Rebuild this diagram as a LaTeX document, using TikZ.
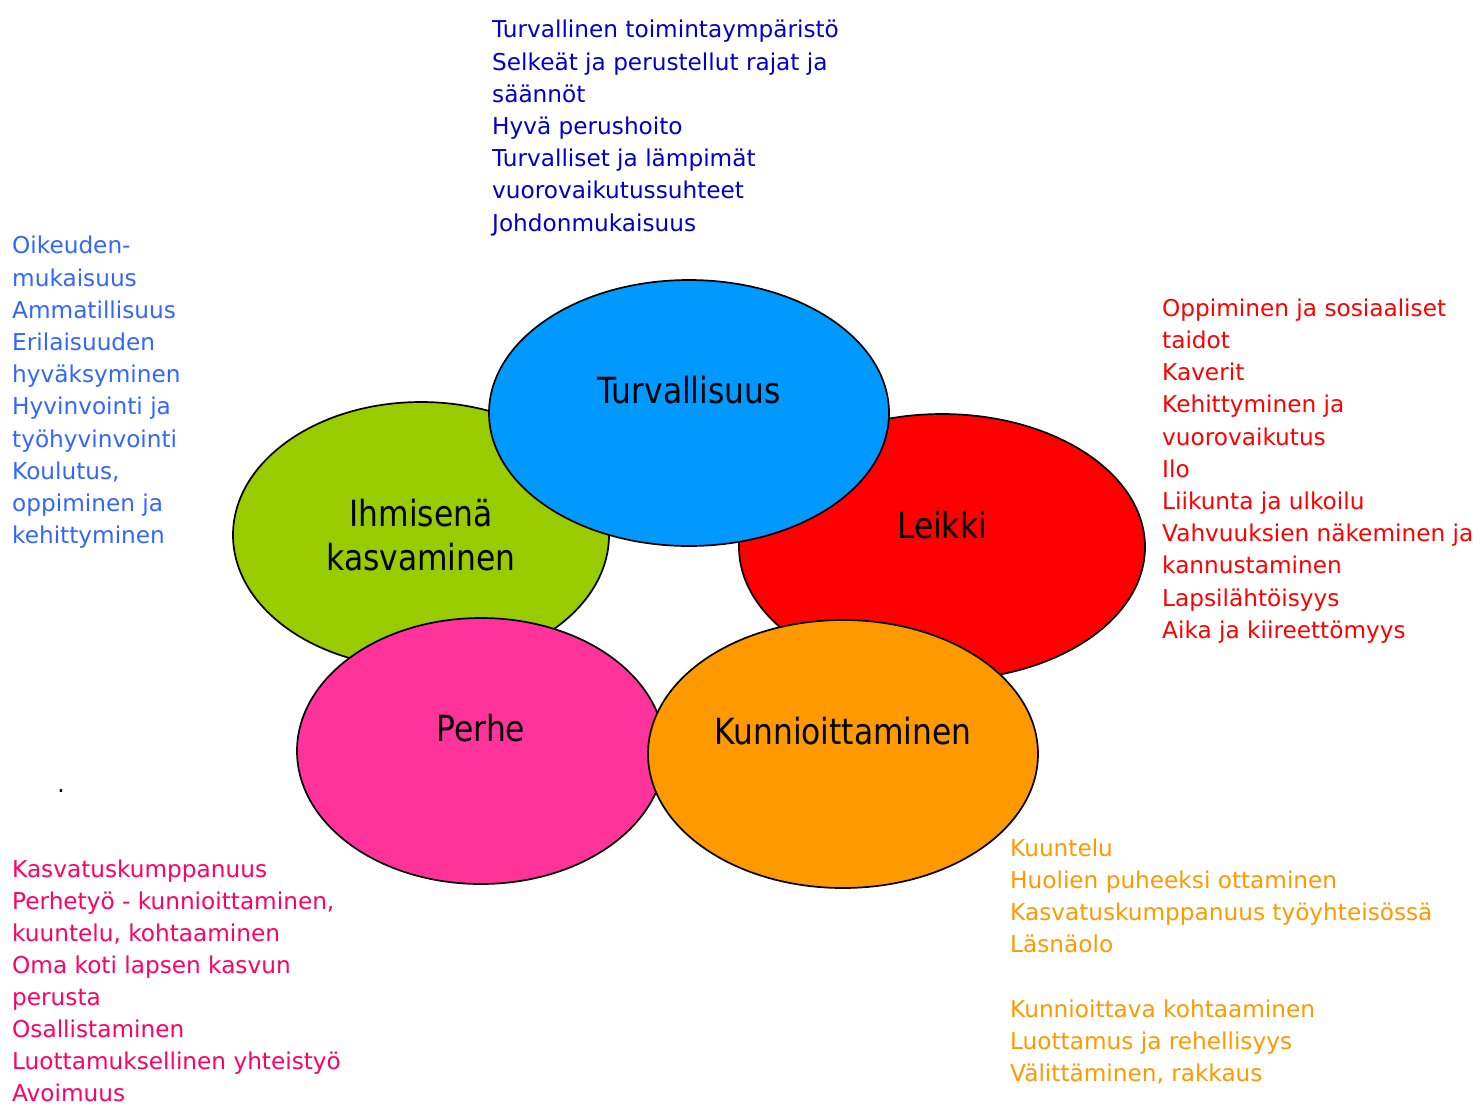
\documentclass[tikz,border=0pt]{standalone}
\usepackage{fontspec}
\setmainfont{DejaVu Sans}
\newfontfamily\bubblefont[FakeStretch=0.87]{DejaVu Sans}
\usepackage{xcolor}
\usetikzlibrary{positioning}
\usetikzlibrary{shapes.geometric}

\definecolor{ihmgreen}{HTML}{99CC00}
\definecolor{turvblue}{HTML}{0099FF}
\definecolor{leikred}{HTML}{FF0000}
\definecolor{perhpink}{HTML}{FF3399}
\definecolor{kunnorange}{HTML}{FF9900}
\definecolor{txtnavy}{HTML}{0000CC}
\definecolor{txtblue}{HTML}{3366FF}
\definecolor{txtred}{HTML}{FF0000}
\definecolor{txtpink}{HTML}{FF0066}
\definecolor{txtorange}{HTML}{FF9900}

\begin{document}
\begin{tikzpicture}[x=1pt,y=-1pt,
  bubble/.style={ellipse,draw=black,line width=1.7pt,inner sep=0pt},
  title/.style={font=\bubblefont\fontsize{36}{44}\selectfont,align=center,inner sep=0pt},
  list/.style={anchor=north west,align=left,inner sep=0pt,font=\fontsize{23.2}{32.2}\selectfont}]
\useasboundingbox (0,0) rectangle (1482,1104);

% the five ellipses, back to front
\node[bubble,fill=ihmgreen,  minimum width=376pt,minimum height=266pt] (ihm)  at (421,535) {};
\node[bubble,fill=leikred,   minimum width=406pt,minimum height=266pt] (leik) at (942,547) {};
\node[bubble,fill=turvblue,  minimum width=400pt,minimum height=266pt] (turv) at (689,413) {};
\node[bubble,fill=perhpink,  minimum width=368pt,minimum height=266pt] (perh) at (481,751) {};
\node[bubble,fill=kunnorange,minimum width=390pt,minimum height=268pt] (kunn) at (843,754) {};

\node[title] (ihmlbl)  at (ihm.center)                {Ihmisenä\\kasvaminen};
\node[title] (turvlbl) at ([yshift=23pt]turv.center)  {Turvallisuus};
\node[title] (leiklbl) at ([yshift=22pt]leik.center)  {Leikki};
\node[title] (perhlbl) at ([yshift=23pt]perh.center)  {Perhe};
\node[title] (kunnlbl) at ([yshift=23pt]kunn.center)  {Kunnioittaminen};

% lists
\node[list,text=txtnavy] (turvlist) at (492,20) {Turvallinen toimintaympäristö\\Selkeät ja perustellut rajat ja\\säännöt\\Hyvä perushoito\\Turvalliset ja lämpimät\\vuorovaikutussuhteet\\Johdonmukaisuus};
\node[list,text=txtblue] (ihmlist) at (12,236) {Oikeuden-\\mukaisuus\\Ammatillisuus\\Erilaisuuden\\hyväksyminen\\Hyvinvointi ja\\työhyvinvointi\\Koulutus,\\oppiminen ja\\kehittyminen};
\node[list,text=txtred] (leiklist) at (1162,298.5) {Oppiminen ja sosiaaliset\\taidot\\Kaverit\\Kehittyminen ja\\vuorovaikutus\\Ilo\\Liikunta ja ulkoilu\\Vahvuuksien näkeminen ja\\kannustaminen\\Lapsilähtöisyys\\Aika ja kiireettömyys};
\node[list,text=txtpink,font=\fontsize{23.2}{32}\selectfont] (perhlist) at (12,859.5) {Kasvatuskumppanuus\\Perhetyö - kunnioittaminen,\\kuuntelu, kohtaaminen\\Oma koti lapsen kasvun\\perusta\\Osallistaminen\\Luottamuksellinen yhteistyö\\Avoimuus};
\node[list,text=txtorange] (kunnlist) at (1010,838.5) {Kuuntelu\\Huolien puheeksi ottaminen\\Kasvatuskumppanuus työyhteisössä\\Läsnäolo\\[32.2pt]Kunnioittava kohtaaminen\\Luottamus ja rehellisyys\\Välittäminen, rakkaus};

\node[anchor=base,inner sep=0pt,font=\fontsize{23.2}{32.2}\selectfont] (dot) at (61,792) {.};
\end{tikzpicture}
\end{document}
